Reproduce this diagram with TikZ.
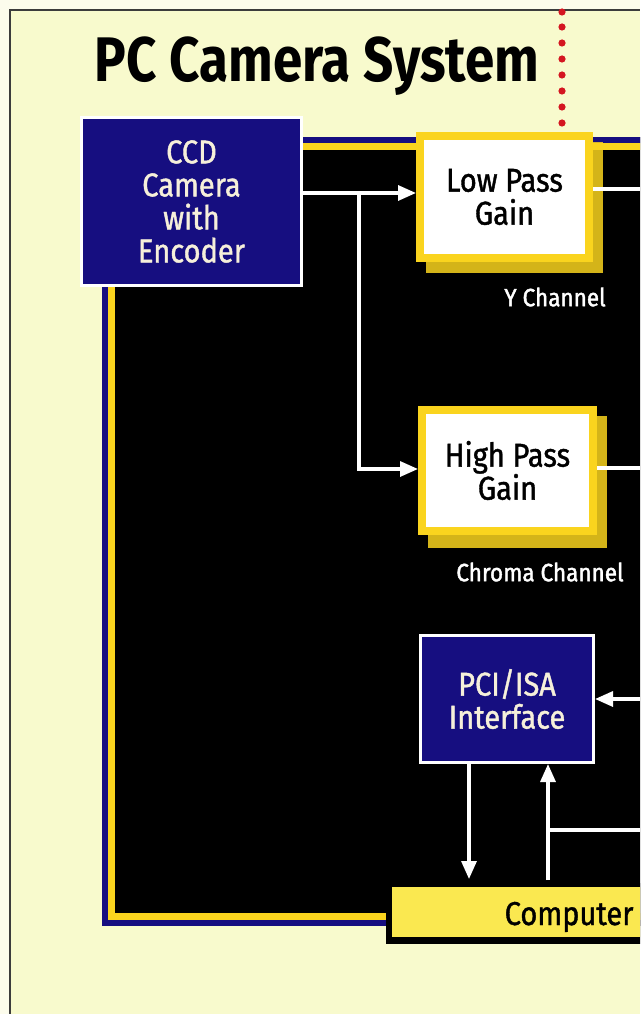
\documentclass[tikz,border=0pt]{standalone}
\usepackage{fontspec}
\setmainfont{Fira Sans}[FakeStretch=0.88,FakeBold=1.2]
\newfontfamily\titlefont{Fira Sans}[FakeStretch=0.84]
\newfontfamily\labelfont{Fira Sans}[FakeStretch=0.9,FakeBold=1.6]
\usetikzlibrary{arrows.meta,calc}
\definecolor{bgpale}{RGB}{248,250,205}
\definecolor{bgout}{RGB}{252,252,236}
\definecolor{navy}{RGB}{22,14,128}
\definecolor{gold}{RGB}{250,212,30}
\definecolor{compy}{RGB}{250,232,80}
\definecolor{cream}{RGB}{246,240,218}
\definecolor{reddot}{RGB}{212,22,32}
\definecolor{framegray}{RGB}{60,60,60}
\tikzset{
  x=1pt, y=-1pt,
  boxfont/.style={font=\fontsize{33}{33}\selectfont, align=center},
  navybox/.style={boxfont, draw=white, line width=3pt, fill=navy, text=cream, inner sep=0pt},
  passbox/.style={boxfont, draw=gold, line width=8pt, fill=white, text=black, inner sep=0pt},
  chlabel/.style={font=\labelfont\fontsize{25}{27}\selectfont, text=white},
  wire/.style={draw=white, line width=3.2pt},
  arr/.style={wire, -{Triangle[length=18pt,width=15pt]}},
}
\begin{document}
\begin{tikzpicture}
\useasboundingbox (0,0) rectangle (640,1014);
\clip (0,0) rectangle (640,1014);
% background
\fill[bgout] (0,0) rectangle (640,1014);
\fill[bgpale] (10,10) rectangle (640,1014);
\draw[framegray, line width=1.6pt] (10,1014) -- (10,10) -- (640,10);
% title
\node[anchor=base, font=\titlefont\bfseries\fontsize{63}{64}\selectfont] (title) at (317,82) {PC Camera System};
% red dotted line
\foreach \yy in {12,27,43,59,75,91,107,123,138}
  \fill[reddot] (562,\yy) circle (3.6pt);
% black panel with navy/yellow border
\fill[black] (102,137) rectangle (700,926);
\draw[navy, line width=6pt] (105,140) rectangle (700,923);
\draw[gold, line width=6.5pt] (111.25,146.25) rectangle (700,916.25);
% glows
\fill[gold, opacity=0.85] (426,142) rectangle (603,273);
\fill[gold, opacity=0.85] (428,416) rectangle (607,548);
% nodes
\node[navybox, minimum width=220pt, minimum height=168pt] (ccd) at (191.5,201.5) {CCD\\Camera\\with\\Encoder};
\node[passbox, minimum width=169pt, minimum height=122pt] (lp) at (504.5,197) {Low Pass\\Gain};
\node[passbox, minimum width=171pt, minimum height=121pt] (hp) at (507.5,470.5) {High Pass\\Gain};
\node[navybox, minimum width=173pt, minimum height=127pt] (pci) at (507,699) {PCI/ISA\\Interface};
\fill[black] (386,883) rectangle (700,944);
\node[fill=compy, minimum width=300pt, minimum height=50pt, inner sep=0pt, anchor=north west] (comp) at (392,887) {};
\node[anchor=base east, font=\fontsize{33}{35}\selectfont] (comptext) at (637,925) {Computer};
% labels
\node[chlabel] (ych) at (555,297) {Y Channel};
\node[chlabel] (cch) at (540,572) {Chroma Channel};
% coordinates
\coordinate (split) at (359,193);
\coordinate (lpout) at (640,189);
\coordinate (hpout) at (640,468);
\coordinate (pciin) at (640,699);
\coordinate (busj) at (548,830);
\coordinate (busr) at (640,830);
% connectors
\draw[arr] (ccd.east |- split) -- (lp.west |- split);
\draw[arr] (split) |- (hp.west |- 0,469);
\draw[wire] (lp.east |- lpout) -- (lpout);
\draw[wire] (hp.east |- hpout) -- (hpout);
\draw[arr] (pciin) -- (pci.east |- pciin);
\draw[arr] (pci.south -| 469,0) -- ($(comp.north -| 469,0)+(0,-8)$);
\draw[arr] ($(comp.north -| 548,0)+(0,-7)$) -- (pci.south -| 548,0);
\draw[wire] (busj) -- (busr);
\end{tikzpicture}
\end{document}
